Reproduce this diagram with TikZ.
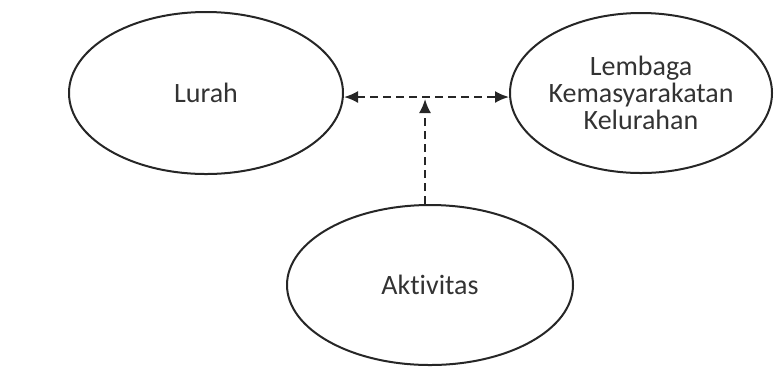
\documentclass[tikz,border=0pt]{standalone}
\usepackage{fontspec}
\setmainfont{Carlito}[Ligatures={NoCommon}]
\usetikzlibrary{shapes.geometric,arrows.meta}

\begin{document}
\begin{tikzpicture}[
    blob/.style={draw=black!85, line width=1pt, ellipse, inner sep=0pt, align=center,
      text=black!80, font=\fontsize{14}{13.5}\selectfont},
    link/.style={black!85, line width=1pt, dash pattern=on 4pt off 2.5pt,
      -{Latex[length=7pt,width=6pt]}}
  ]
    \useasboundingbox (0pt, 0pt) rectangle (387.5pt, -183pt);

    \node [blob, minimum width=137pt, minimum height=81pt] (lurah) at (103pt, -46.5pt) {Lurah};
    \node [blob, minimum width=131pt, minimum height=80pt] (lembaga) at (320.5pt, -46.5pt)
      {Lembaga\\Kemasyarakatan\\Kelurahan};
    \node [blob, minimum width=143pt, minimum height=80pt] (aktivitas) at (215pt, -142.5pt) {Aktivitas};

    \draw [link, {Latex[length=7pt,width=6pt]}-{Latex[length=7pt,width=6pt]}]
      ([yshift=-2pt]lurah.east) -- ([yshift=-2pt]lembaga.west);

    \coordinate (mitra) at (212.5pt, -49.5pt);
    \draw [link] (aktivitas.north -| mitra) -- (mitra);
  \end{tikzpicture}
\end{document}
